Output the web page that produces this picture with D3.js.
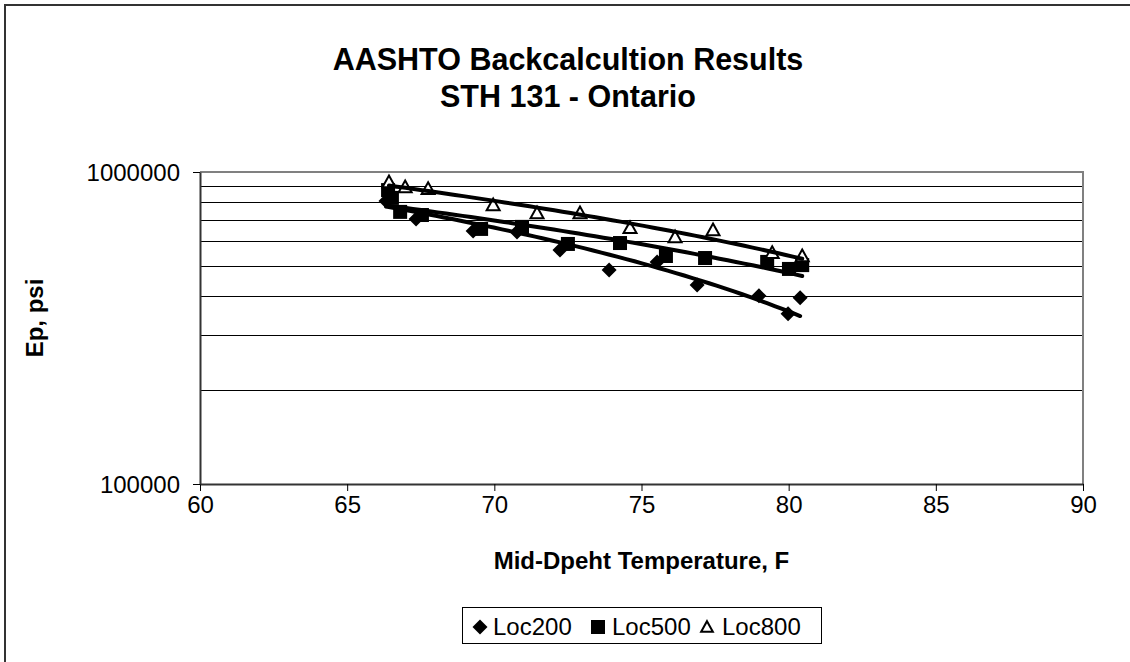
<!DOCTYPE html>
<html>
<head>
<meta charset="utf-8">
<script src="https://cdn.jsdelivr.net/npm/d3@7"></script>
<style>
html,body{margin:0;padding:0;background:#fff;}
svg{display:block;font-family:"Liberation Sans",Arial,sans-serif;}
</style>
</head>
<body>
<svg id="chart" width="1130" height="662"></svg>
<script>
const titleLines = ["AASHTO Backcalcultion Results", "STH 131 - Ontario"];
const xTitle = "Mid-Dpeht Temperature, F";
const yTitle = "Ep, psi";
const xTicks = [60, 65, 70, 75, 80, 85, 90];
const yTicks = [100000, 1000000];
const yGrid = [200000, 300000, 400000, 500000, 600000, 700000, 800000, 900000];
const seriesNames = ["Loc200", "Loc500", "Loc800"];

const loc200X = [66.32, 66.49, 67.34, 69.28, 70.77, 72.23, 73.9, 75.53, 76.89, 78.99, 79.98, 80.39];
const loc200Y = [807000, 844000, 707000, 647000, 642000, 562000, 485000, 515000, 434000, 401000, 351000, 395000];
const loc500X = [66.39, 66.52, 66.8, 67.54, 69.55, 70.94, 72.5, 74.27, 75.83, 77.16, 79.27, 80.01, 80.46];
const loc500Y = [875000, 826000, 745000, 728000, 657000, 667000, 588000, 592000, 538000, 530000, 515000, 489000, 503000];
const loc800X = [66.42, 66.97, 67.75, 69.96, 71.45, 72.91, 74.61, 76.14, 77.43, 79.44, 80.46];
const loc800Y = [929000, 895000, 883000, 784000, 739000, 739000, 662000, 619000, 652000, 551000, 538000];

const svg = d3.select("#chart");
const L = 200, R = 1083, T = 172, B = 484;
const x = d3.scaleLinear().domain([60, 90]).range([L, R]);
const y = d3.scaleLog().domain([100000, 1000000]).range([B, T]);
const FONT = "Liberation Sans, Arial, sans-serif";

// outer frame
svg.append("rect").attr("x", 5).attr("y", 5).attr("width", 1140).attr("height", 680)
  .attr("fill", "none").attr("stroke", "#333").attr("stroke-width", 2);

// titles
svg.selectAll("text.title").data(titleLines).enter().append("text")
  .attr("class", "title")
  .attr("x", 568).attr("y", (d, i) => 70 + i * 37)
  .attr("text-anchor", "middle").attr("font-size", 30.5).attr("font-weight", "bold")
  .text(d => d);

// gridlines
svg.append("g").selectAll("line").data(yGrid).enter().append("line")
  .attr("x1", L).attr("x2", R).attr("y1", d => Math.round(y(d)) + 0.5).attr("y2", d => Math.round(y(d)) + 0.5)
  .attr("stroke", "#000").attr("stroke-width", 1);

// plot border top & right (gray)
svg.append("path").attr("d", `M${L},${T}H${R}V${B}`).attr("fill", "none")
  .attr("stroke", "#808080").attr("stroke-width", 2);

// axes
const xAxis = d3.axisBottom(x).tickValues(xTicks).tickSize(7).tickSizeOuter(0).tickPadding(22).tickFormat(d3.format("d"));
const gx = svg.append("g").attr("transform", `translate(0,${B})`).call(xAxis);
gx.select(".domain").attr("stroke", "#333").attr("stroke-width", 2);
gx.selectAll(".tick line").attr("stroke", "#000");
gx.selectAll(".tick text").attr("font-size", 24).attr("fill", "#000").attr("font-family", FONT).attr("dy", 0);

const yAxis = d3.axisLeft(y).tickValues(yTicks).tickSize(7).tickSizeOuter(0).tickPadding(13).tickFormat(d3.format("d"));
const gy = svg.append("g").attr("transform", `translate(${L},0)`).call(yAxis);
gy.select(".domain").attr("stroke", "#333").attr("stroke-width", 2);
gy.selectAll(".tick line").attr("stroke", "#000");
gy.selectAll(".tick text").attr("font-size", 24).attr("fill", "#000").attr("font-family", FONT).attr("dy", "0.35em");

// axis titles
svg.append("text").attr("x", (L + R) / 2).attr("y", 569).attr("text-anchor", "middle")
  .attr("font-size", 24).attr("font-weight", "bold").text(xTitle);
svg.append("text").attr("transform", `translate(43,${318}) rotate(-90)`).attr("text-anchor", "middle")
  .attr("font-size", 24).attr("font-weight", "bold").text(yTitle);

// trendlines (linear least squares)
function linFit(xs, ys) {
  const mx = d3.mean(xs), my = d3.mean(ys);
  let sxy = 0, sxx = 0;
  xs.forEach((v, i) => { sxy += (v - mx) * (ys[i] - my); sxx += (v - mx) * (v - mx); });
  const b = sxy / sxx;
  return v => my + b * (v - mx);
}
const series = [
  {name: seriesNames[0], xs: loc200X, ys: loc200Y, shape: "diamond"},
  {name: seriesNames[1], xs: loc500X, ys: loc500Y, shape: "square"},
  {name: seriesNames[2], xs: loc800X, ys: loc800Y, shape: "triangle"}
];
const line = d3.line().x(d => x(d[0])).y(d => y(d[1]));
series.forEach(s => {
  const f = linFit(s.xs, s.ys);
  const [x0, x1] = d3.extent(s.xs);
  s.trend = d3.range(0, 51).map(i => { const v = x0 + (x1 - x0) * i / 50; return [v, f(v)]; });
});

function marker(g, shape, cx, cy, sc) {
  sc = sc || 1;
  if (shape === "diamond") {
    const r = 7.5 * sc;
    g.append("path").attr("d", `M${cx},${cy - r}L${cx + r},${cy}L${cx},${cy + r}L${cx - r},${cy}Z`).attr("fill", "#000");
  } else if (shape === "square") {
    const h = 7 * sc;
    g.append("rect").attr("x", cx - h).attr("y", cy - h).attr("width", 2 * h).attr("height", 2 * h).attr("fill", "#000");
  } else {
    const h = 6.5 * sc;
    g.append("path").attr("d", `M${cx},${cy - h}L${cx + h},${cy + h * 0.8}L${cx - h},${cy + h * 0.8}Z`)
      .attr("fill", "#fff").attr("stroke", "#000").attr("stroke-width", 2);
  }
}

const gm = svg.append("g");
series.forEach(s => {
  s.xs.forEach((v, i) => marker(gm, s.shape, x(v), y(s.ys[i])));
});
const gt = svg.append("g");
series.forEach(s => {
  gt.append("path").attr("d", line(s.trend)).attr("fill", "none").attr("stroke", "#000")
    .attr("stroke-width", 4).attr("stroke-linecap", "round");
});

// legend
const lg = svg.append("g");
lg.append("rect").attr("x", 462.5).attr("y", 607.5).attr("width", 359).attr("height", 36)
  .attr("fill", "#fff").attr("stroke", "#000").attr("stroke-width", 1);
const legX = [480, 598, 707];
const legTextX = [493, 612, 722];
series.forEach((s, i) => {
  marker(lg, s.shape, legX[i], 627, s.shape === "triangle" ? 0.9 : 1);
  lg.append("text").attr("x", legTextX[i]).attr("y", 635).attr("font-size", 24).text(s.name);
});
</script>
</body>
</html>
